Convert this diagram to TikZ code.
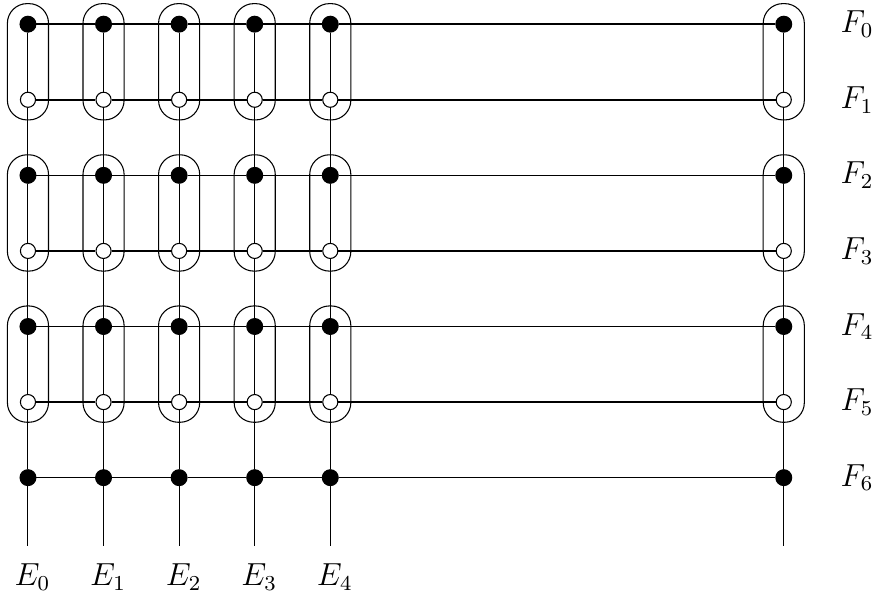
\documentclass[tikz,border=0pt]{standalone}
\usetikzlibrary{fit}

\begin{document}
\begin{tikzpicture}[
    full/.style={circle, fill=black, draw=black, inner sep=0pt, minimum size=0.21cm},
    hollow/.style={circle, fill=white, draw=black, inner sep=0pt, minimum size=0.2cm},
    pair/.style={draw, rounded corners=0.26cm, inner sep=0.16cm},
    hline/.style={line width=0.6pt},
    vline/.style={line width=0.4pt},
    lbl/.style={font=\large}]
    \useasboundingbox (-0.37,-1.56) rectangle (11.26,6.32);

    % Dots, filled on even rows and hollow on odd rows
    \foreach \i/\x in {0/0,1/1,2/2,3/3,4/4,5/10} {
        \foreach \k in {0,2,4,6}
            \node[full] (v\i-\k) at (\x,6-\k) {};
        \foreach \k in {1,3,5}
            \node[hollow] (v\i-\k) at (\x,6-\k) {};
        \coordinate (b\i) at (\x,-0.91);
    }

    % Rows F_k
    \foreach \k in {0,...,6}
        \draw[hline] (v0-\k) -- (v1-\k) -- (v2-\k) -- (v3-\k) -- (v4-\k) -- (v5-\k);

    % Columns E_i
    \foreach \i in {0,...,5}
        \draw[vline] (v\i-0) -- (v\i-1) -- (v\i-2) -- (v\i-3) -- (v\i-4) -- (v\i-5) -- (v\i-6) -- (b\i);

    % Ovals round each pair of rows
    \foreach \i in {0,...,5}
        \foreach \k in {0,2,4} {
            \pgfmathtruncatemacro\m{\k+1}
            \node[pair, fit=(v\i-\k)(v\i-\m)] (p\i-\k) {};
        }

    % Labels
    \foreach \k in {0,...,6}
        \node[lbl] (f\k) at (10.97,6-\k) {$F_\k$};
    \foreach \i in {0,...,4}
        \node[lbl] (e\i) at (\i+0.06,-1.32) {$E_\i$};
\end{tikzpicture}
\end{document}
